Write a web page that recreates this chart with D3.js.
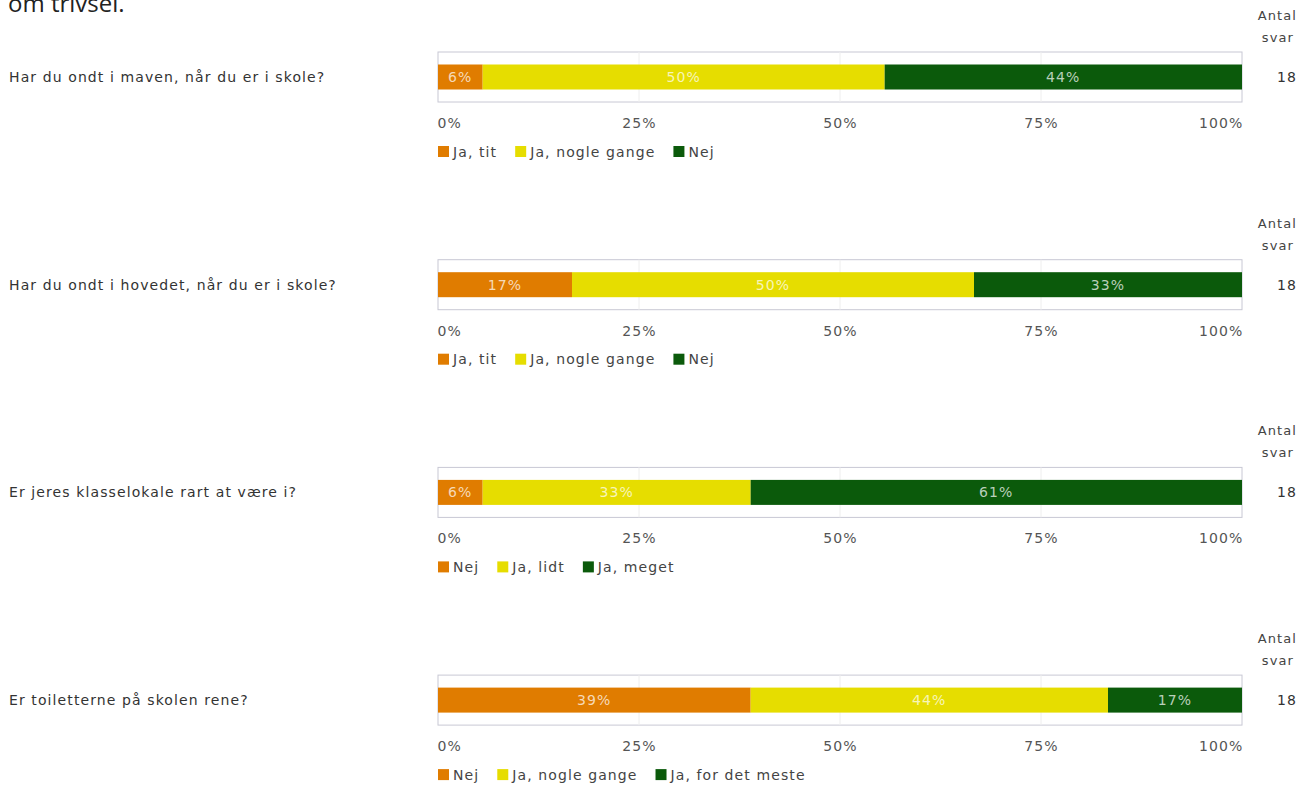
<!DOCTYPE html>
<html lang="da">
<head>
<meta charset="utf-8">
<title>Trivsel</title>
<script src="https://d3js.org/d3.v7.min.js"></script>
<style>
  body { margin: 0; background: #fff; }
  svg text { font-family: "DejaVu Sans", Verdana, sans-serif; font-size: 14px; letter-spacing: 1.1px; }
</style>
</head>
<body>
<script>
// data (antal svar = 18 per question)
const questions = [
  "Har du ondt i maven, når du er i skole?",
  "Har du ondt i hovedet, når du er i skole?",
  "Er jeres klasselokale rart at være i?",
  "Er toiletterne på skolen rene?"
];
const answerLabels = [
  ["Ja, tit", "Ja, nogle gange", "Nej"],
  ["Ja, tit", "Ja, nogle gange", "Nej"],
  ["Nej", "Ja, lidt", "Ja, meget"],
  ["Nej", "Ja, nogle gange", "Ja, for det meste"]
];
const counts = [
  [1, 9, 8],
  [3, 9, 6],
  [1, 6, 11],
  [7, 8, 3]
];
const antalSvar = [18, 18, 18, 18];
const ticks = [0, 25, 50, 75, 100];
const colors = ["#e07c00", "#e6dd00", "#0b5a0b"];

const W = 1299, H = 785;
const svg = d3.select("body").append("svg").attr("width", W).attr("height", H);

// cropped page title at the top
svg.append("text").text("om trivsel.")
   .attr("x", 8).attr("y", 12)
   .style("font-size", "24px").style("letter-spacing", "0px")
   .style("font-family", "'Open Sans', sans-serif")
   .attr("fill", "#222");

const x = d3.scaleLinear().domain([0, 100]).range([438, 1242]);
const step = 207.7;

questions.forEach(function(q, i) {
  const g = svg.append("g").attr("transform", "translate(0," + (i * step) + ")");
  const boxTop = 52, boxBottom = 102;
  const y = d3.scaleBand().domain([q]).range([boxTop, boxBottom]).padding(1 / 3);

  // header for count column
  g.append("text").text("Antal").attr("x", 1297).attr("y", 20)
   .attr("text-anchor", "end").style("font-size", "13px").attr("fill", "#444");
  g.append("text").text("svar").attr("x", 1294).attr("y", 42)
   .attr("text-anchor", "end").style("font-size", "13px").attr("fill", "#444");

  // question label
  g.append("text").text(q).attr("x", 9).attr("y", y(q) + y.bandwidth() / 2)
   .attr("dy", "0.35em").attr("fill", "#333");

  // plot box + faint grid
  g.append("rect").attr("x", x(0)).attr("y", boxTop)
   .attr("width", x(100) - x(0)).attr("height", boxBottom - boxTop)
   .attr("fill", "#fff").attr("stroke", "#c8c8d4").attr("stroke-width", 1);
  g.selectAll(".grid").data(ticks.slice(1, -1)).enter().append("line")
   .attr("x1", d => x(d)).attr("x2", d => x(d))
   .attr("y1", boxTop).attr("y2", boxBottom)
   .attr("stroke", "#eeeeee");

  // stacked segments
  const n = antalSvar[i];
  let acc = 0;
  const segs = counts[i].map(function(c, j) {
    const s = { start: acc / n * 100, end: (acc + c) / n * 100, pct: Math.round(c / n * 100), j: j };
    acc += c;
    return s;
  });
  g.selectAll(".seg").data(segs).enter().append("rect")
   .attr("x", d => x(d.start)).attr("width", d => x(d.end) - x(d.start))
   .attr("y", y(q)).attr("height", y.bandwidth())
   .attr("fill", d => colors[d.j]);
  g.selectAll(".lbl").data(segs).enter().append("text")
   .text(d => d.pct + "%")
   .attr("x", d => (x(d.start) + x(d.end)) / 2)
   .attr("y", y(q) + y.bandwidth() / 2).attr("dy", "0.35em")
   .attr("text-anchor", "middle")
   .attr("fill", "#fff").attr("fill-opacity", 0.72);

  // count
  g.append("text").text(n).attr("x", 1297).attr("y", y(q) + y.bandwidth() / 2)
   .attr("dy", "0.35em").attr("text-anchor", "end").attr("fill", "#333");

  // x axis labels
  const axis = d3.axisBottom(x).tickValues(ticks).tickSize(0).tickFormat(d => d + "%");
  const ax = g.append("g").attr("transform", "translate(0," + (boxBottom + 13) + ")").call(axis);
  ax.select(".domain").remove();
  ax.selectAll("text").attr("font-size", null).attr("fill", "#555")
    .attr("text-anchor", (d, k) => k === 0 ? "start" : (k === ticks.length - 1 ? "end" : "middle"))
    .attr("dx", (d, k) => k === 0 ? -1 : (k === ticks.length - 1 ? 1 : 0));
  ax.attr("font-family", null).attr("font-size", null);

  // legend
  let lx = 438;
  answerLabels[i].forEach(function(lab, j) {
    g.append("rect").attr("x", lx).attr("y", 146).attr("width", 11).attr("height", 11)
     .attr("fill", colors[j]);
    const t = g.append("text").text(lab).attr("x", lx + 15).attr("y", 156.5).attr("fill", "#444");
    lx += 15 + t.node().getComputedTextLength() + 18;
  });
});
</script>
</body>
</html>
